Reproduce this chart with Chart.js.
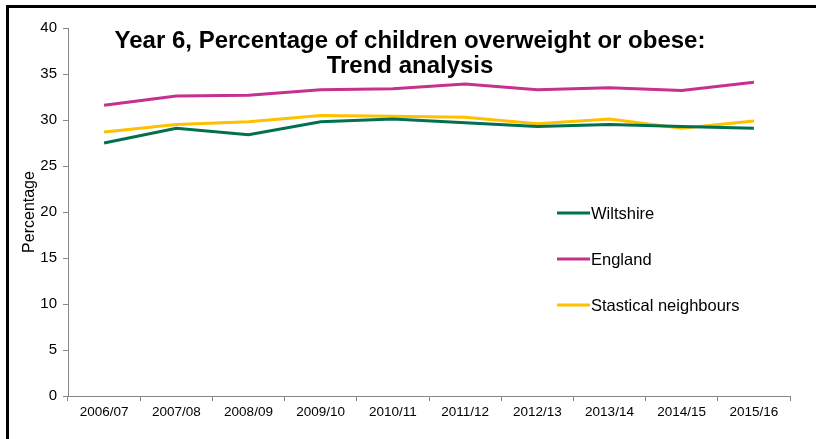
<!DOCTYPE html>
<html>
<head>
<meta charset="utf-8">
<script src="https://cdn.jsdelivr.net/npm/chart.js@4"></script>
<style>
  html, body { margin: 0; padding: 0; background: #fff; }
  #wrap { position: relative; width: 816px; height: 439px; overflow: hidden; }
  #frame { position: absolute; left: 6px; top: 5px; width: 900px; height: 600px; border: 3px solid #000; box-sizing: border-box; pointer-events: none; }
</style>
</head>
<body>
<div id="wrap">
  <canvas id="obesityChart" width="816" height="439"></canvas>
  <div id="frame"></div>
</div>
<script>
// school years
const years = ['2006/07', '2007/08', '2008/09', '2009/10', '2010/11', '2011/12', '2012/13', '2013/14', '2014/15', '2015/16'];

// % of Year 6 children overweight or obese
const wiltshire = [27.5, 29.1, 28.4, 29.8, 30.1, 29.7, 29.3, 29.5, 29.3, 29.1];
const england = [31.6, 32.6, 32.7, 33.3, 33.4, 33.9, 33.3, 33.5, 33.2, 34.1];
const neighbours = [28.7, 29.5, 29.8, 30.5, 30.4, 30.3, 29.6, 30.1, 29.1, 29.9];

const titleLines = ['Year 6, Percentage of children overweight or obese:', 'Trend analysis'];

const FONT = "'Liberation Sans', Arial, sans-serif";
const axisGrey = '#888888';

// title sits over the top of the plot
const titlePlugin = {
    id: 'overlayTitle',
    afterDraw(chart) {
        const ctx = chart.ctx;
        ctx.save();
        ctx.font = 'bold 24px ' + FONT;
        ctx.fillStyle = '#000';
        ctx.textAlign = 'center';
        ctx.textBaseline = 'middle';
        titleLines.forEach((t, i) => ctx.fillText(t, 410, 41 + i * 25));
        ctx.restore();
    }
};

// legend stacked inside the plot area
const legendPlugin = {
    id: 'insideLegend',
    afterDraw(chart) {
        const ctx = chart.ctx;
        const area = chart.chartArea;
        const x0 = area.left + 489;
        const y0 = area.top + 185;
        ctx.save();
        ctx.font = '16.5px ' + FONT;
        ctx.textBaseline = 'middle';
        chart.data.datasets.forEach((ds, i) => {
            const y = y0 + i * 46;
            ctx.strokeStyle = ds.borderColor;
            ctx.lineWidth = 3;
            ctx.beginPath();
            ctx.moveTo(x0, y);
            ctx.lineTo(x0 + 33, y);
            ctx.stroke();
            ctx.fillStyle = '#000';
            ctx.fillText(ds.label, x0 + 34, y + 1);
        });
        ctx.restore();
    }
};

const ctx = document.getElementById('obesityChart').getContext('2d');
const chart = new Chart(ctx, {
    type: 'line',
    data: {
        labels: years,
        datasets: [
            { label: 'Wiltshire', data: wiltshire, borderColor: '#00704F' },
            { label: 'England', data: england, borderColor: '#C6308E' },
            { label: 'Stastical neighbours', data: neighbours, borderColor: '#FFC000' }
        ].map(d => Object.assign(d, { borderWidth: 3, pointRadius: 0, tension: 0, fill: false }))
    },
    options: {
        responsive: false,
        animation: false,
        layout: { padding: { top: 28, right: 26, bottom: 0, left: 0 } },
        plugins: {
            legend: { display: false },
            title: { display: false },
            tooltip: { enabled: false }
        },
        scales: {
            x: {
                offset: true,
                grid: { offset: true, drawOnChartArea: false, drawTicks: true, tickLength: 5, color: axisGrey },
                border: { color: axisGrey },
                ticks: { color: '#000', padding: 3, maxRotation: 0, autoSkip: false, font: { family: FONT, size: 13.5 } },
                afterFit: s => { s.height = 43; }
            },
            y: {
                min: 0,
                max: 40,
                ticks: { stepSize: 5, color: '#000', padding: 6, font: { family: FONT, size: 15 } },
                grid: { drawOnChartArea: false, drawTicks: true, tickLength: 5, color: axisGrey },
                border: { color: axisGrey },
                title: { display: true, text: 'Percentage', color: '#000', padding: { top: 20, bottom: 0 }, font: { family: FONT, size: 16 } },
                afterFit: s => { s.width = 68; }
            }
        }
    },
    plugins: [titlePlugin, legendPlugin]
});
</script>
</body>
</html>
